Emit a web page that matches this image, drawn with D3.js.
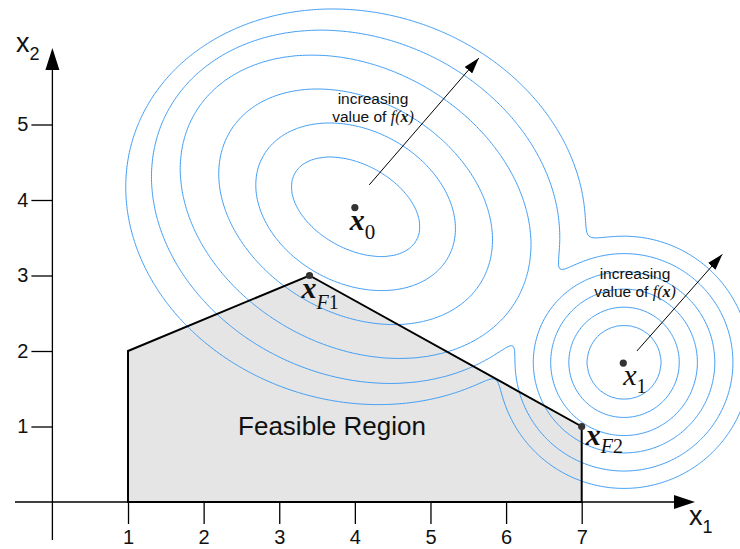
<!DOCTYPE html>
<html><head><meta charset="utf-8">
<script src="https://cdn.jsdelivr.net/npm/d3@7"></script>
<style>html,body{margin:0;padding:0;background:#fff;} svg{display:block;}</style>
</head><body>
<svg id="chart" width="740" height="549"></svg>
<script>
// ---------- data ----------
const xTicks = [1, 2, 3, 4, 5, 6, 7];
const yTicks = [1, 2, 3, 4, 5];
const feasibleX = [1, 1, 3.4, 7, 7];
const feasibleY = [0, 2, 3, 1, 0];
const pointX = [4.0, 7.55, 3.4, 7];   // x0, x1, xF1, xF2
const pointY = [3.9, 1.84, 3, 1];
// level ellipses of f around x0 (half-width, half-height, correlation), data units
const x0HalfWidth  = [0.85, 1.32, 1.81, 2.32, 2.70, 3.04];
const x0HalfHeight = [0.66, 1.11, 1.56, 2.01, 2.34, 2.62];
const x0Corr       = [-0.40, -0.26, -0.28, -0.25, -0.17, -0.10];
// level circles of f around x1 (radius), data units
const x1Radius = [0.49, 0.73, 0.97, 1.20, 1.44, 1.67];
const contourLevels = [1, 2, 3, 4, 5, 6];
const arrowStartX = [4.19, 7.73], arrowStartY = [4.20, 2.00];
const arrowEndX   = [5.64, 8.86], arrowEndY   = [5.88, 3.28];

// ---------- scales ----------
const svg = d3.select("#chart");
const x = d3.scaleLinear().domain([0, 7]).range([52.4, 581.7]);
const y = d3.scaleLinear().domain([0, 5]).range([502, 124.5]);
const SANS = "'Liberation Sans', Arial, sans-serif";
const SERIF = "'Liberation Serif', 'Times New Roman', serif";

// ---------- level function ----------
function interpLevel(r, R) {
  if (r <= R[0]) return r / R[0];
  for (let k = 1; k < R.length; k++) {
    if (r <= R[k]) return k + (r - R[k - 1]) / (R[k] - R[k - 1]);
  }
  const n = R.length;
  return n + (r - R[n - 1]) / (R[n - 1] - R[n - 2]);
}
function level0(px, py) {
  const dx = px - pointX[0], dy = py - pointY[0];
  const r = Math.hypot(dx, dy);
  if (r === 0) return 0;
  const R = x0HalfWidth.map((W, k) => {
    const H = x0HalfHeight[k], c = x0Corr[k];
    const rho2 = (H * H * dx * dx - 2 * c * W * H * dx * dy + W * W * dy * dy) / (W * W * H * H * (1 - c * c));
    return r / Math.sqrt(rho2);
  });
  return interpLevel(r, R);
}
function level1(px, py) {
  const r = Math.hypot(px - pointX[1], py - pointY[1]);
  return interpLevel(r, x1Radius);
}
const s = 0.3;
function f(px, py) {
  const a = level0(px, py), b = level1(px, py);
  const m = Math.min(a, b);
  return m - s * Math.log(Math.exp(-(a - m) / s) + Math.exp(-(b - m) / s));
}

const gxmin = -1, gxmax = 10.5, gymin = -1.5, gymax = 8, step = 0.02;
const nx = Math.round((gxmax - gxmin) / step) + 1;
const ny = Math.round((gymax - gymin) / step) + 1;
const values = new Float64Array(nx * ny);
for (let j = 0; j < ny; j++) {
  const py = gymin + j * step;
  for (let i = 0; i < nx; i++) {
    values[j * nx + i] = -f(gxmin + i * step, py);
  }
}
const contours = d3.contours().size([nx, ny]).thresholds(contourLevels.map(l => -l))(values);
const proj = d3.geoTransform({
  point: function (px, py) { this.stream.point(x(gxmin + px * step), y(gymin + py * step)); }
});
const cpath = d3.geoPath(proj);

// ---------- feasible region fill ----------
const poly = feasibleX.map((v, i) => [x(v), y(feasibleY[i])]);
svg.append("path")
  .attr("d", d3.line()(poly) + "Z")
  .attr("fill", "#e5e5e5").attr("stroke", "none");

// ---------- contours ----------
svg.append("g").selectAll("path").data(contours).join("path")
  .attr("d", cpath)
  .attr("fill", "none").attr("stroke", "#3c9bf5").attr("stroke-width", 1);

// ---------- feasible region outline ----------
svg.append("path")
  .attr("d", d3.line()(poly) + "Z")
  .attr("fill", "none").attr("stroke", "#000").attr("stroke-width", 2)
  .attr("stroke-linejoin", "miter");

// ---------- axes ----------
const gx = svg.append("g").attr("transform", `translate(0,${y(0)})`)
  .call(d3.axisBottom(x).tickValues(xTicks).tickSize(22).tickPadding(6).tickFormat(d3.format("d")));
const gy = svg.append("g").attr("transform", `translate(${x(0)},0)`)
  .call(d3.axisLeft(y).tickValues(yTicks).tickSize(21).tickPadding(3).tickFormat(d3.format("d")));
[gx, gy].forEach(g => {
  g.select(".domain").remove();
  g.selectAll(".tick line").attr("stroke", "#000").attr("stroke-width", 1.3);
  g.selectAll(".tick text").attr("font-family", SANS).attr("font-size", 20).attr("fill", "#111");
});
// axis lines with arrowheads
svg.append("line").attr("x1", 15).attr("x2", 676).attr("y1", y(0)).attr("y2", y(0))
  .attr("stroke", "#000").attr("stroke-width", 1.3);
svg.append("path").attr("d", `M${674},${y(0) - 7}L${695},${y(0)}L${674},${y(0) + 7}Z`).attr("fill", "#000");
svg.append("line").attr("x1", x(0)).attr("x2", x(0)).attr("y1", 540).attr("y2", 68)
  .attr("stroke", "#000").attr("stroke-width", 1.3);
svg.append("path").attr("d", `M${x(0) - 7},${70}L${x(0)},${48}L${x(0) + 7},${70}Z`).attr("fill", "#000");

// axis labels
const lx1 = svg.append("text").attr("x", 689).attr("y", 525).attr("font-family", SANS).attr("font-size", 27).attr("fill", "#111");
lx1.append("tspan").text("x");
lx1.append("tspan").attr("dy", 8).attr("font-size", 18).text("1");
const lx2 = svg.append("text").attr("x", 16).attr("y", 52).attr("font-family", SANS).attr("font-size", 27).attr("fill", "#111");
lx2.append("tspan").text("x");
lx2.append("tspan").attr("dy", 8).attr("font-size", 18).text("2");

// ---------- arrows ----------
const defs = svg.append("defs");
defs.append("marker").attr("id", "ah").attr("viewBox", "0 0 16 10")
  .attr("refX", 16).attr("refY", 5).attr("markerWidth", 16).attr("markerHeight", 10)
  .attr("markerUnits", "userSpaceOnUse").attr("orient", "auto")
  .append("path").attr("d", "M0,0L16,5L0,10Z").attr("fill", "#000");
arrowStartX.forEach((sx, i) => {
  svg.append("line")
    .attr("x1", x(sx)).attr("y1", y(arrowStartY[i]))
    .attr("x2", x(arrowEndX[i])).attr("y2", y(arrowEndY[i]))
    .attr("stroke", "#000").attr("stroke-width", 1).attr("marker-end", "url(#ah)");
});

// "increasing value of f(x)" annotations
function incLabel(cx, cy) {
  svg.append("text").attr("x", cx).attr("y", cy).attr("text-anchor", "middle")
    .attr("font-family", SANS).attr("font-size", 15.5).attr("fill", "#111").text("increasing");
  const t2 = svg.append("text").attr("x", cx).attr("y", cy + 18).attr("text-anchor", "middle")
    .attr("font-family", SANS).attr("font-size", 15.5).attr("fill", "#111");
  t2.append("tspan").text("value of ");
  t2.append("tspan").attr("font-family", SERIF).attr("font-style", "italic").attr("font-size", 16).text("f(");
  t2.append("tspan").attr("font-family", SERIF).attr("font-style", "italic").attr("font-weight", "bold").attr("font-size", 16).text("x");
  t2.append("tspan").attr("font-family", SERIF).attr("font-style", "italic").attr("font-size", 16).text(")");
}
incLabel(373, 104);
incLabel(635, 279);

// ---------- points ----------
pointX.forEach((px, i) => {
  svg.append("circle").attr("cx", x(px)).attr("cy", y(pointY[i])).attr("r", 3.6).attr("fill", "#333");
});

// point labels
function ptLabel(px, py, bold, sub, subItalic, dxo, dyo, size, subSize, subDy) {
  const t = svg.append("text").attr("x", x(px) + dxo).attr("y", y(py) + dyo)
    .attr("font-family", SERIF).attr("font-size", size).attr("fill", "#111");
  t.append("tspan").attr("font-style", "italic").attr("font-weight", bold ? "bold" : "normal").text("x");
  if (subItalic) {
    t.append("tspan").attr("dy", subDy).attr("font-size", subSize).attr("font-style", "italic").text(subItalic);
    t.append("tspan").attr("font-size", subSize).text(sub);
  } else {
    t.append("tspan").attr("dy", subDy).attr("font-size", subSize).text(sub);
  }
}
ptLabel(pointX[0], pointY[0], true, "0", null, -5, 22, 30, 21, 9);
ptLabel(pointX[1], pointY[1], false, "1", null, 0, 22, 30, 20, 8);
ptLabel(pointX[2], pointY[2], true, "1", "F", -8, 22, 30, 20, 11);
ptLabel(pointX[3], pointY[3], true, "2", "F", 4, 18, 30, 20, 8);

// feasible region label
svg.append("text").attr("x", 332).attr("y", 435).attr("text-anchor", "middle")
  .attr("font-family", SANS).attr("font-size", 26).attr("fill", "#111").text("Feasible Region");
</script>
</body></html>
